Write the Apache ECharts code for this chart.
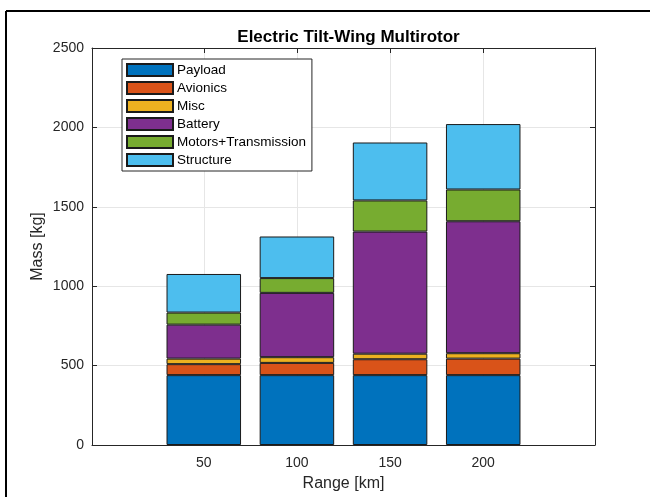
<!DOCTYPE html>
<html>
<head>
<meta charset="utf-8">
<script src="https://cdn.jsdelivr.net/npm/echarts@6/dist/echarts.min.js"></script>
<style>
html,body{margin:0;padding:0;background:#fff;}
#chart{width:650px;height:497px;}
</style>
</head>
<body>
<div id="chart"></div>
<script>
const ranges = ['50', '100', '150', '200'];
const tickLabels = [50, 100, 150, 200];
const seriesNames = ['Payload', 'Avionics', 'Misc', 'Battery', 'Motors+Transmission', 'Structure'];
const payload = [440, 440, 440, 440];
const avionics = [69, 77, 100, 104];
const misc = [35, 36, 35, 34];
const battery = [214, 405, 769, 831];
const motors = [76, 93, 196, 200];
const structure = [243, 262, 365, 412];
const colors = ['#0072BD', '#D95319', '#EDB120', '#7E2F8E', '#77AC30', '#4DBEEE'];

const values = [payload, avionics, misc, battery, motors, structure];
const font = 'Liberation Sans, Arial, Helvetica, sans-serif';
const axisColor = '#262626';

// layout of the plotting box (pixels) and its x-limits (data units)
const W = 650, H = 497;
const boxL = 92, boxR = 595, boxT = 48, boxB = 445;
const xMin = -10, xMax = 260;
const pxPerUnit = (boxR - boxL) / (xMax - xMin);
const step = 50;
const barGridL = boxL + (tickLabels[0] - step / 2 - xMin) * pxPerUnit;
const barGridR = barGridL + tickLabels.length * step * pxPerUnit;

const chart = echarts.init(document.getElementById('chart'), null, {renderer: 'canvas'});

const series = seriesNames.map((name, i) => ({
  name: name,
  type: 'bar',
  stack: 'mass',
  barWidth: '80%',
  xAxisIndex: 2,
  yAxisIndex: 2,
  z: 5,
  itemStyle: {color: colors[i], borderColor: '#1a1a1a', borderWidth: 1},
  emphasis: {disabled: true},
  data: values[i]
}));

const xCommon = {
  type: 'value', min: xMin, max: xMax, gridIndex: 0,
  axisLine: {show: true, onZero: false, lineStyle: {color: axisColor, width: 1}},
  axisTick: {show: true, inside: true, length: 5, customValues: tickLabels, lineStyle: {color: axisColor}},
  splitLine: {show: false}
};
const yCommon = {
  type: 'value', min: 0, max: 2500, interval: 500, gridIndex: 0,
  axisLine: {show: true, onZero: false, lineStyle: {color: axisColor, width: 1}},
  axisTick: {show: true, inside: true, length: 5, lineStyle: {color: axisColor}},
};

chart.setOption({
  backgroundColor: '#fff',
  animation: false,
  title: {
    text: 'Electric Tilt-Wing Multirotor',
    left: (boxL + boxR) / 2, top: 24, textAlign: 'center',
    textStyle: {fontFamily: font, fontSize: 17, fontWeight: 'bold', color: '#000'}
  },
  legend: {
    orient: 'vertical', left: 122, top: 59,
    itemWidth: 46, itemHeight: 12, itemGap: 4,
    padding: [4, 6, 4, 4],
    borderColor: '#262626', borderWidth: 1, backgroundColor: '#fff',
    icon: 'rect', z: 10,
    textStyle: {fontFamily: font, fontSize: 13.5, lineHeight: 14, color: '#000', padding: [0, 0, 0, -1]},
    data: seriesNames
  },
  grid: [
    {left: boxL, right: W - boxR, top: boxT, bottom: H - boxB, containLabel: false},
    {left: barGridL, right: W - barGridR, top: boxT, bottom: H - boxB, containLabel: false}
  ],
  xAxis: [
    Object.assign({}, xCommon, {
      position: 'bottom',
      name: 'Range [km]', nameLocation: 'middle', nameGap: 31,
      nameTextStyle: {fontFamily: font, fontSize: 16, color: axisColor},
      axisLabel: {show: true, customValues: tickLabels, margin: 11, fontFamily: font, fontSize: 14, color: axisColor}
    }),
    Object.assign({}, xCommon, {position: 'top', axisLabel: {show: false}}),
    {type: 'category', gridIndex: 1, data: ranges, show: false}
  ],
  yAxis: [
    Object.assign({}, yCommon, {
      position: 'left',
      axisLabel: {show: true, margin: 8, fontFamily: font, fontSize: 14, color: axisColor, formatter: v => String(v)},
      splitLine: {show: true, lineStyle: {color: '#e6e6e6', width: 1}}
    }),
    Object.assign({}, yCommon, {position: 'right', axisLabel: {show: false}, splitLine: {show: false}}),
    {type: 'value', gridIndex: 1, min: 0, max: 2500, show: false, splitLine: {show: false}}
  ],
  series: series.concat([{
    type: 'line', xAxisIndex: 0, yAxisIndex: 0, data: [], silent: true,
    z: 0, zlevel: 0,
    markLine: {
      silent: true, symbol: 'none', label: {show: false}, z: 0,
      lineStyle: {color: '#e6e6e6', width: 1, type: 'solid'},
      data: tickLabels.map(v => ({xAxis: v}))
    }
  }]),
  graphic: [
    {type: 'line', shape: {x1: 6, y1: 11, x2: 650, y2: 11}, style: {stroke: '#000', lineWidth: 2}, z: 100},
    {type: 'line', shape: {x1: 6, y1: 11, x2: 6, y2: 497}, style: {stroke: '#000', lineWidth: 2}, z: 100},
    {type: 'text', x: 38, y: (boxT + boxB) / 2, rotation: Math.PI / 2,
     style: {text: 'Mass [kg]', fontFamily: font, fontSize: 16, fill: axisColor, align: 'center', verticalAlign: 'middle'}}
  ]
});
</script>
</body>
</html>
